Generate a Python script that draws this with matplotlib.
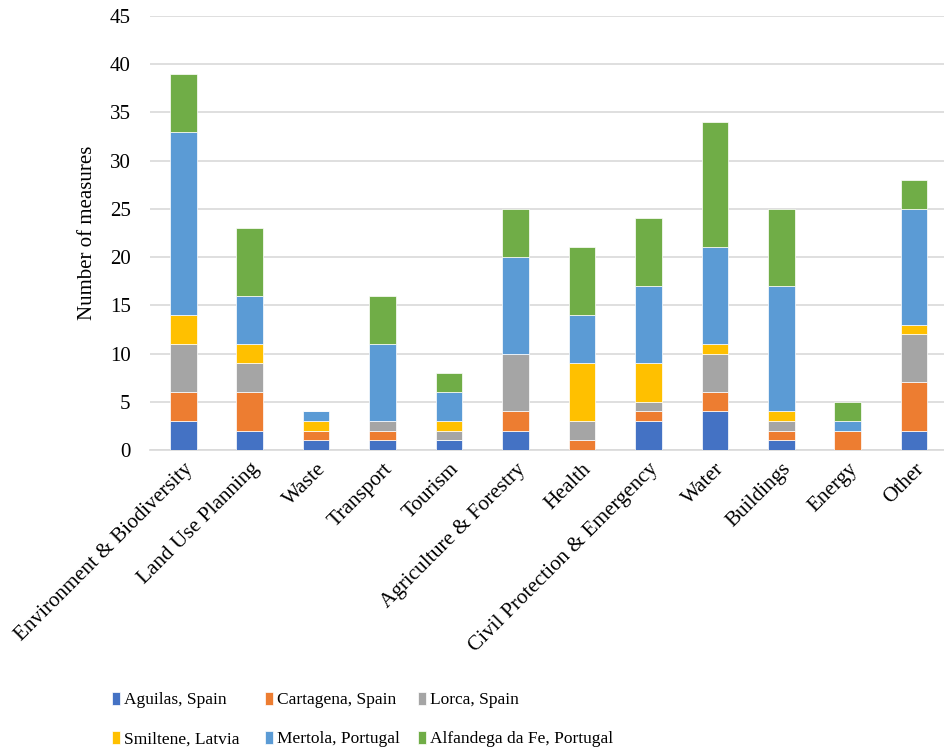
import numpy as np
import matplotlib.pyplot as plt

plt.rcParams['font.family'] = ['Liberation Serif', 'DejaVu Serif']

categories = ['Environment & Biodiversity', 'Land Use Planning', 'Waste', 'Transport',
              'Tourism', 'Agriculture & Forestry', 'Health', 'Civil Protection & Emergency',
              'Water', 'Buildings', 'Energy', 'Other']

aguilas = [3, 2, 1, 1, 1, 2, 0, 3, 4, 1, 0, 2]
cartagena = [3, 4, 1, 1, 0, 2, 1, 1, 2, 1, 2, 5]
lorca = [5, 3, 0, 1, 1, 6, 2, 1, 4, 1, 0, 5]
smiltene = [3, 2, 1, 0, 1, 0, 6, 4, 1, 1, 0, 1]
mertola = [19, 5, 1, 8, 3, 10, 5, 8, 10, 13, 1, 12]
alfandega = [6, 7, 0, 5, 2, 5, 7, 7, 13, 8, 2, 3]

series = [
    ('Aguilas, Spain', aguilas, '#4472C4'),
    ('Cartagena, Spain', cartagena, '#ED7D31'),
    ('Lorca, Spain', lorca, '#A5A5A5'),
    ('Smiltene, Latvia', smiltene, '#FFC000'),
    ('Mertola, Portugal', mertola, '#5B9BD5'),
    ('Alfandega da Fe, Portugal', alfandega, '#70AD47'),
]

fig = plt.figure(figsize=(9.44, 7.55), dpi=100)
ax = fig.add_axes([0.159, 0.404, 0.841, 0.575])

x = np.arange(len(categories))
bottom = np.zeros(len(categories))
handles = []
for name, vals, color in series:
    vals = np.array(vals)
    b = ax.bar(x, vals, width=0.4, bottom=bottom, color=color, label=name,
               edgecolor='white', linewidth=0.5, zorder=3)
    handles.append(b)
    bottom += vals

ax.set_ylim(0, 45)
ax.set_yticks(range(0, 46, 5))
ax.set_xlim(-0.5, 11.45)
ax.set_xticks(x)
ax.set_xticklabels(categories, rotation=45, ha='right', rotation_mode='anchor', fontsize=15.3)
ax.tick_params(axis='y', labelsize=15, length=0, pad=14)
ax.tick_params(axis='x', length=0, pad=7)
ax.grid(axis='y', color='#D9D9D9', linewidth=1.2, zorder=0)
for s in ['top', 'right', 'left']:
    ax.spines[s].set_visible(False)
ax.spines['bottom'].set_color('#D9D9D9')
ax.spines['bottom'].set_linewidth(1.2)
ax.set_ylabel('Number of measures', fontsize=15, labelpad=9)

# legend: three columns of two rows each
col_x = [0.119, 0.281, 0.443]
for c in range(3):
    idx = [c, c + 3]
    leg = fig.legend([handles[i] for i in idx], [series[i][0] for i in idx],
                     loc='center left', bbox_to_anchor=(col_x[c], 0.047),
                     frameon=False, fontsize=12.5, handlelength=0.45, handleheight=0.75,
                     handletextpad=0.25, labelspacing=1.3, borderpad=0, borderaxespad=0)

fig.savefig('out.png', dpi=100)
